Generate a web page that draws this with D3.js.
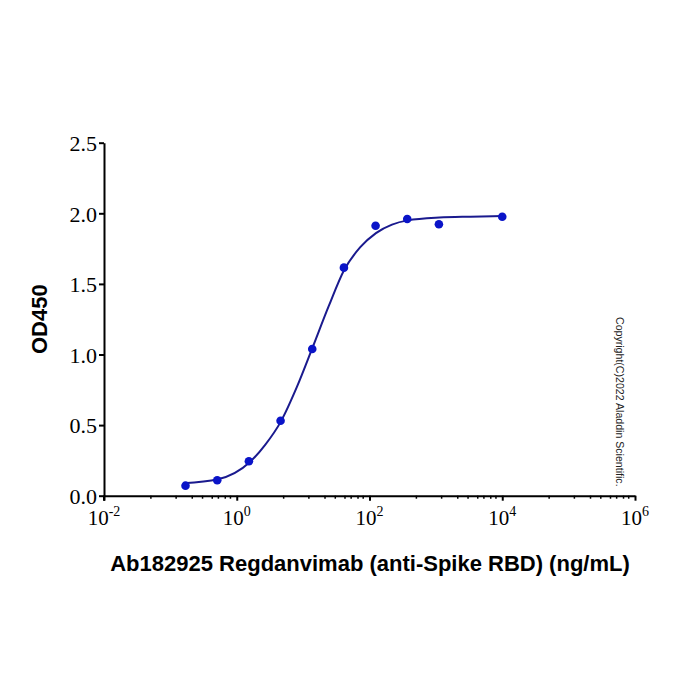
<!DOCTYPE html>
<html>
<head>
<meta charset="utf-8">
<script src="https://cdn.jsdelivr.net/npm/d3@7"></script>
<style>
  body { margin: 0; background: #fff; }
  svg { display: block; }
</style>
</head>
<body>
<div id="chart"></div>
<script>
"use strict";

// measured points, 3-fold dilution series (ng/mL)
var conc = [0.169, 0.508, 1.524, 4.572, 13.72, 41.15, 123.5, 370.4, 1111.1, 10000];
var od = [0.071, 0.109, 0.244, 0.531, 1.039, 1.615, 1.912, 1.96, 1.922, 1.976];

// fitted curve
var curveConc = [0.157, 0.519, 1.55, 2.68, 4.68, 8.06, 13.9, 24.2, 41.7, 72.6, 125, 218, 376, 1128, 3311, 10160];
var curveOd = [0.088, 0.116, 0.235, 0.36, 0.53, 0.77, 1.05, 1.34, 1.6, 1.76, 1.86, 1.92, 1.95, 1.97, 1.976, 1.98];

var yTicks = [0, 0.5, 1.0, 1.5, 2.0, 2.5];
var xMajor = [0.01, 1, 100, 10000, 1000000];
var xExponents = ["-2", "0", "2", "4", "6"];
var minorMult = [5, 12, 21, 30, 42, 52, 66, 79];

var yTitle = "OD450";
var xTitle = "Ab182925 Regdanvimab (anti-Spike RBD) (ng/mL)";
var copyright = "Copyright(C)2022 Aladdin Scientific.";

var W = 700, H = 700;
var plotLeft = 104, plotRight = 635, plotTop = 142.7, plotBottom = 495.7;

var svg = d3.select("#chart").append("svg")
  .attr("width", W)
  .attr("height", H);

var x = d3.scaleLog().domain([0.01, 1e6]).range([plotLeft, plotRight]);
var y = d3.scaleLinear().domain([0, 2.5]).range([plotBottom, plotTop]);

// minor ticks between the labelled decades
var xMinor = [];
xMajor.slice(0, -1).forEach(function(m) {
  minorMult.forEach(function(k) { xMinor.push(m * k); });
});

var serif = "'Liberation Serif', 'Times New Roman', serif";
var sans = "'Liberation Sans', Arial, sans-serif";

// x axis
var gx = svg.append("g")
  .attr("transform", "translate(0," + plotBottom + ")");

gx.append("g")
  .call(d3.axisBottom(x).tickValues(xMinor).tickSize(3).tickFormat(""))
  .call(function(g) { g.select(".domain").remove(); })
  .selectAll("line").attr("stroke-width", 1.5);

gx.append("g")
  .call(d3.axisBottom(x).tickValues(xMajor).tickSize(5).tickSizeOuter(0).tickFormat(""))
  .call(function(g) {
    g.select(".domain").attr("stroke-width", 2);
    g.selectAll("line").attr("stroke-width", 2);
  });

var xLabels = gx.selectAll(".xlab")
  .data(xMajor)
  .enter().append("text")
  .attr("class", "xlab")
  .attr("x", function(d) { return x(d); })
  .attr("y", 29)
  .attr("text-anchor", "middle")
  .style("font-family", serif)
  .style("font-size", "21px")
  .attr("fill", "#000");

xLabels.append("tspan").text("10");
xLabels.append("tspan")
  .attr("dy", -9)
  .style("font-size", "14px")
  .text(function(d, i) { return xExponents[i]; });

// y axis
var gy = svg.append("g")
  .attr("transform", "translate(" + plotLeft + ",0)");

gy.call(d3.axisLeft(y).tickValues(yTicks).tickSize(5).tickSizeOuter(0)
    .tickFormat(d3.format(".1f")))
  .call(function(g) {
    g.select(".domain").attr("stroke-width", 2);
    g.selectAll("line").attr("stroke-width", 2);
    g.selectAll("text")
      .attr("x", -7)
      .attr("dy", "0.35em")
      .style("font-family", serif)
      .style("font-size", "22px")
      .attr("fill", "#000");
  });

// extend y axis line down to meet the x axis
gy.append("line")
  .attr("x1", 0).attr("x2", 0)
  .attr("y1", plotBottom).attr("y2", plotBottom + 5)
  .attr("stroke", "#000").attr("stroke-width", 2);

// fitted curve
var line = d3.line()
  .x(function(d) { return x(d[0]); })
  .y(function(d) { return y(d[1]); })
  .curve(d3.curveMonotoneX);

svg.append("path")
  .datum(d3.zip(curveConc, curveOd))
  .attr("d", line)
  .attr("fill", "none")
  .attr("stroke", "#1a1a8e")
  .attr("stroke-width", 2);

// points
svg.selectAll(".pt")
  .data(d3.zip(conc, od))
  .enter().append("circle")
  .attr("class", "pt")
  .attr("cx", function(d) { return x(d[0]); })
  .attr("cy", function(d) { return y(d[1]); })
  .attr("r", 4.3)
  .attr("fill", "#0a14c8");

// titles
svg.append("text")
  .attr("transform", "translate(47," + ((plotTop + plotBottom) / 2) + ") rotate(-90)")
  .attr("text-anchor", "middle")
  .style("font-family", sans)
  .style("font-weight", "bold")
  .style("font-size", "22px")
  .text(yTitle);

svg.append("text")
  .attr("x", 370)
  .attr("y", 571)
  .attr("text-anchor", "middle")
  .style("font-family", sans)
  .style("font-weight", "bold")
  .style("font-size", "22px")
  .text(xTitle);

svg.append("text")
  .attr("transform", "translate(616,317) rotate(90)")
  .style("font-family", sans)
  .style("font-size", "10.6px")
  .attr("fill", "#222")
  .text(copyright);
</script>
</body>
</html>
